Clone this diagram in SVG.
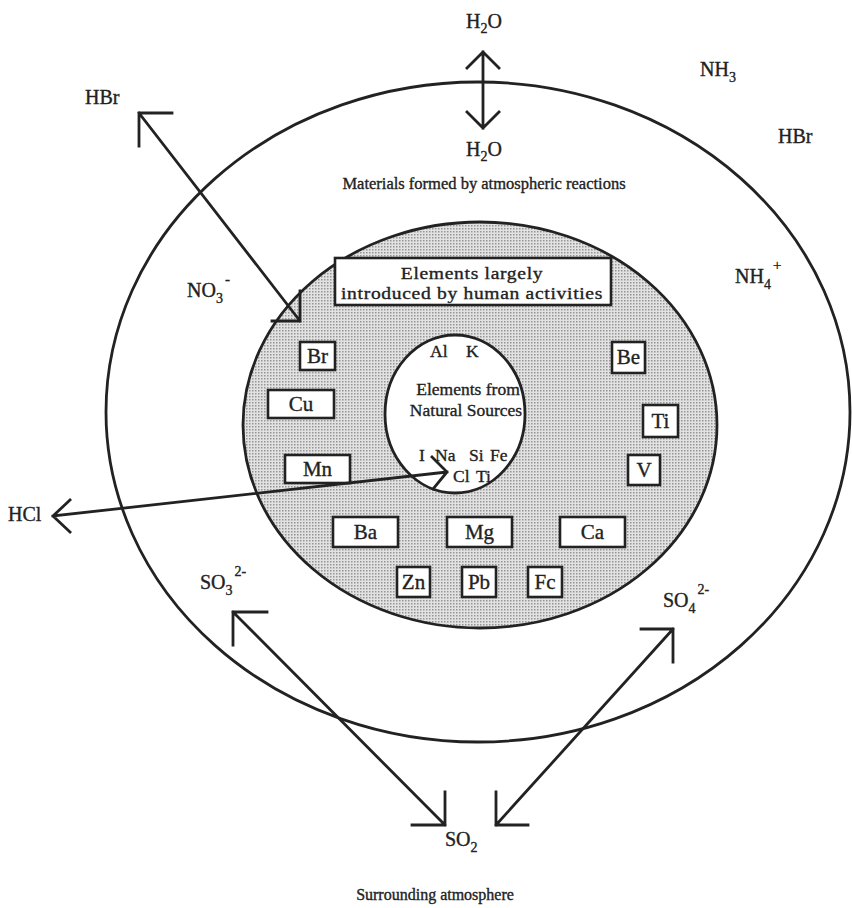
<svg xmlns="http://www.w3.org/2000/svg" width="852" height="908" viewBox="0 0 852 908">
<defs>
<style>
.ln{fill:none;stroke:#222;stroke-width:2.8;stroke-linecap:square}
.bx{fill:#fff;stroke:#222;stroke-width:2.6}
.f{font-family:"Liberation Serif","Times New Roman",serif;fill:#222;stroke:#222;stroke-width:0.35}
.lab{font-size:20px}
.el{font-size:21px}
.in{font-size:17.5px}
.m{text-anchor:middle}
</style>
<pattern id="dots" width="3" height="3" patternUnits="userSpaceOnUse">
<rect width="3" height="3" fill="#e2e2e2"/>
<rect width="1.5" height="1.5" fill="#959595"/>
</pattern>
</defs>
<rect width="852" height="908" fill="#fff"/>

<g id="outer-region">
<ellipse cx="478" cy="412" rx="372" ry="330" class="ln"/>
</g>
<g id="middle-region">
<ellipse cx="480" cy="425" rx="237" ry="203" fill="url(#dots)" stroke="#222" stroke-width="2.8"/>
</g>
<g id="inner-region">
<ellipse cx="455" cy="414" rx="70" ry="79" fill="#fff" stroke="#222" stroke-width="2.8"/>
<text class="f in" x="430" y="357">Al</text>
<text class="f in" x="466" y="357">K</text>
<text class="f in m" x="468" y="395">Elements from</text>
<text class="f in m" x="466" y="416">Natural Sources</text>
<text class="f in" x="419" y="461">I</text>
<text class="f in" x="435" y="461">Na</text>
<text class="f in" x="469" y="461">Si</text>
<text class="f in" x="490" y="461">Fe</text>
<text class="f in" x="453" y="482">Cl</text>
<text class="f in" x="476" y="482">Ti</text>
</g>

<g id="human-box">
<rect x="335" y="258" width="276" height="47" class="bx"/>
<text class="f m" font-size="17" letter-spacing="0.6" transform="translate(472 0) scale(1.15 1)" x="0" y="279">Elements largely</text>
<text class="f m" font-size="17" letter-spacing="0.6" transform="translate(472 0) scale(1.15 1)" x="0" y="299">introduced by human activities</text>
</g>

<g id="el-Br"><rect x="300" y="342" width="35" height="28" class="bx"/><text class="f el m" x="317.5" y="363">Br</text></g>
<g id="el-Cu"><rect x="268" y="390" width="66" height="28" class="bx"/><text class="f el m" x="301" y="411">Cu</text></g>
<g id="el-Mn"><rect x="285" y="455" width="65" height="28" class="bx"/><text class="f el m" x="317.5" y="476">Mn</text></g>
<g id="el-Be"><rect x="612" y="342" width="33" height="31" class="bx"/><text class="f el m" x="628.5" y="364">Be</text></g>
<g id="el-Ti"><rect x="643" y="405" width="35" height="32" class="bx"/><text class="f el m" x="660.5" y="428">Ti</text></g>
<g id="el-V"><rect x="628" y="455" width="32" height="30" class="bx"/><text class="f el m" x="644" y="477">V</text></g>
<g id="el-Ba"><rect x="333" y="517" width="65" height="30" class="bx"/><text class="f el m" x="365.5" y="539">Ba</text></g>
<g id="el-Mg"><rect x="447" y="517" width="65" height="30" class="bx"/><text class="f el m" x="479.5" y="539">Mg</text></g>
<g id="el-Ca"><rect x="560" y="517" width="65" height="30" class="bx"/><text class="f el m" x="592.5" y="539">Ca</text></g>
<g id="el-Zn"><rect x="397" y="567" width="33" height="30" class="bx"/><text class="f el m" x="413.5" y="589">Zn</text></g>
<g id="el-Pb"><rect x="462" y="567" width="34" height="30" class="bx"/><text class="f el m" x="479" y="589">Pb</text></g>
<g id="el-Fc"><rect x="528" y="567" width="34" height="30" class="bx"/><text class="f el m" x="545" y="589">Fc</text></g>

<g id="labels">
<text class="f lab m" x="484" y="28">H<tspan font-size="14" dy="5">2</tspan><tspan dy="-5">O</tspan></text>
<text class="f lab m" x="484" y="156">H<tspan font-size="14" dy="5">2</tspan><tspan dy="-5">O</tspan></text>
<text class="f m" font-size="16.5" x="484" y="189">Materials formed by atmospheric reactions</text>
<text class="f lab" x="700" y="76">NH<tspan font-size="14" dy="6">3</tspan></text>
<text class="f lab" x="778" y="143">HBr</text>
<text class="f lab" x="85" y="104">HBr</text>
<text class="f lab" x="187" y="297">NO<tspan font-size="14" dy="6">3</tspan><tspan font-size="15" dx="2" dy="-19">-</tspan></text>
<text class="f lab" x="735" y="283">NH<tspan font-size="14" dy="6">4</tspan><tspan font-size="15" dx="2" dy="-19">+</tspan></text>
<text class="f lab" x="8" y="521">HCl</text>
<text class="f lab" x="200" y="589">SO<tspan font-size="14" dy="6">3</tspan><tspan font-size="14" dx="2" dy="-19">2-</tspan></text>
<text class="f lab" x="663" y="607">SO<tspan font-size="14" dy="6">4</tspan><tspan font-size="14" dx="2" dy="-19">2-</tspan></text>
<text class="f lab" x="445" y="846">SO<tspan font-size="14" dy="6">2</tspan></text>
<text class="f m" font-size="16" x="435" y="900">Surrounding atmosphere</text>
</g>

<g id="connectors">
<path class="ln" d="M483 52 V128 M467 68 L483 52 L499 68 M467 112 L483 128 L499 112"/>
<path class="ln" d="M139 113 L300 321 M172 113 H139 V146 M300 291 V321 H272"/>
<path class="ln" d="M53 516 L447 472 M70 500 L53 516 L70 532 M432 457 L447 472 L433 489"/>
<path class="ln" d="M233 612 L445 825 M267 612 H233 V645 M445 792 V825 H412"/>
<path class="ln" d="M673 629 L496 825 M641 629 H673 V662 M496 792 V825 H528"/>
</g>
</svg>
